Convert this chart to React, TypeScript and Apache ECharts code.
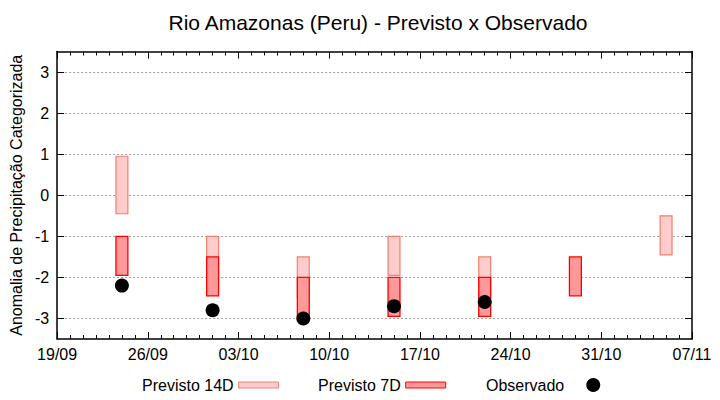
import React, { useEffect, useRef } from "react";
import * as echarts from "echarts";

const BASE_DATE = "2023-09-19";
const TICK_DATES = ["19/09", "26/09", "03/10", "10/10", "17/10", "24/10", "31/10", "07/11"];

const DATES_14D = ["2023-09-24", "2023-10-01", "2023-10-08", "2023-10-15", "2023-10-22", "2023-11-05"];
const LOW_14D = [-0.45, -2.0, -2.5, -1.95, -2.5, -1.45];
const HIGH_14D = [0.95, -1.0, -1.5, -1.0, -1.5, -0.5];

const DATES_7D = ["2023-09-24", "2023-10-01", "2023-10-08", "2023-10-15", "2023-10-22", "2023-10-29"];
const LOW_7D = [-1.95, -2.45, -2.95, -2.95, -2.95, -2.45];
const HIGH_7D = [-1.0, -1.5, -2.0, -2.0, -2.0, -1.5];

const DATES_OBS = ["2023-09-24", "2023-10-01", "2023-10-08", "2023-10-15", "2023-10-22"];
const OBS = [-2.2, -2.8, -3.0, -2.7, -2.6];

const Y_TICKS = [-3, -2, -1, 0, 1, 2, 3];

const DAY = 86400000;
const dayIndex = (d: string) =>
  Math.round((Date.parse(d + "T00:00:00Z") - Date.parse(BASE_DATE + "T00:00:00Z")) / DAY);

const FONT = "Liberation Sans";

const C14_FILL = "#ffcccc";
const C14_LINE = "#f08070";
const C7_FILL = "#ff9999";
const C7_LINE = "#ff0000";

function boxSeries(name: string, dates: string[], low: number[], high: number[], fill: string, stroke: string, lw: number) {
  return {
    name,
    type: "custom",
    renderItem: (params: any, api: any) => {
      const x = api.value(0);
      const p1 = api.coord([x, api.value(2)]);
      const p2 = api.coord([x, api.value(1)]);
      const w = api.size([0.92, 0])[0];
      return {
        type: "rect",
        shape: { x: p1[0] - w / 2, y: p1[1], width: w, height: p2[1] - p1[1] },
        style: { fill, stroke, lineWidth: lw },
      };
    },
    itemStyle: { color: fill, borderColor: stroke, borderWidth: lw },
    encode: { x: 0, y: [1, 2] },
    data: dates.map((d, i) => [dayIndex(d), low[i], high[i]]),
  };
}

export default function App() {
  const ref = useRef<HTMLDivElement>(null);
  useEffect(() => {
    if (!ref.current) return;
    const chart = echarts.init(ref.current, null, { renderer: "svg" });
    const xCommon = {
      type: "value",
      min: 0,
      max: 49,
      interval: 7,
      axisLine: { show: true, onZero: false, lineStyle: { color: "#000", width: 1.5 } },
      axisTick: { show: true, inside: true, length: 7, lineStyle: { color: "#000" } },
      minorTick: { show: true, splitNumber: 7, length: 4, lineStyle: { color: "#000" } },
      splitLine: { show: false },
    };
    const yCommon = {
      type: "value",
      min: -3.5,
      max: 3.5,
      axisLine: { show: true, onZero: false, lineStyle: { color: "#000", width: 1.5 } },
      axisTick: { show: true, inside: true, length: 7, customValues: Y_TICKS, lineStyle: { color: "#000" } },
    };
    const legendText = { fontFamily: FONT, fontSize: 16, color: "#000" };
    const option: any = {
      animation: false,
      backgroundColor: "#fff",
      textStyle: { fontFamily: FONT },
      title: {
        text: "Rio Amazonas (Peru) - Previsto x Observado",
        left: 373,
        top: 7,
        textAlign: "center",
        textStyle: { fontFamily: FONT, fontSize: 21, fontWeight: "normal", color: "#000" },
      },
      grid: { left: 55, right: 28, top: 51.5, bottom: 61, containLabel: false },
      xAxis: [
        {
          ...xCommon,
          position: "bottom",
          axisLabel: {
            show: true,
            margin: 7,
            fontFamily: FONT,
            fontSize: 16,
            color: "#000",
            formatter: (v: number) => TICK_DATES[Math.round(v / 7)] ?? "",
          },
        },
        { ...xCommon, position: "top", axisLabel: { show: false } },
      ],
      yAxis: [
        {
          ...yCommon,
          position: "left",
          name: "Anomalia de Precipitação Categorizada",
          nameLocation: "middle",
          nameGap: 26,
          nameTextStyle: { fontFamily: FONT, fontSize: 16, color: "#000" },
          axisLabel: {
            show: true,
            margin: 8,
            fontFamily: FONT,
            fontSize: 16,
            color: "#000",
            customValues: Y_TICKS,
          },
          splitLine: { show: true, lineStyle: { color: "#a0a0a0", type: [2, 2], width: 1 } },
        },
        {
          ...yCommon,
          position: "right",
          axisLabel: { show: false },
          splitLine: { show: false },
        },
      ],
      legend: [
        {
          data: [
            { name: "Previsto 14D", icon: "rect", itemStyle: { color: C14_FILL, borderColor: C14_LINE, borderWidth: 1 } },
          ],
          left: 142,
          top: 377,
          padding: 0,
          align: "right",
          itemWidth: 40,
          itemHeight: 6,
          textStyle: legendText,
        },
        {
          data: [
            { name: "Previsto 7D", icon: "rect", itemStyle: { color: C7_FILL, borderColor: C7_LINE, borderWidth: 1 } },
          ],
          left: 318,
          top: 377,
          padding: 0,
          align: "right",
          itemWidth: 40,
          itemHeight: 6,
          textStyle: legendText,
        },
        {
          data: [{ name: "Observado", icon: "circle", itemStyle: { color: "#000", opacity: 1 } }],
          left: 486,
          top: 377,
          padding: 0,
          align: "right",
          itemWidth: 48,
          itemHeight: 14,
          textStyle: legendText,
        },
      ],
      series: [
        boxSeries("Previsto 14D", DATES_14D, LOW_14D, HIGH_14D, C14_FILL, C14_LINE, 1.2),
        boxSeries("Previsto 7D", DATES_7D, LOW_7D, HIGH_7D, C7_FILL, C7_LINE, 1.3),
        {
          name: "Observado",
          type: "scatter",
          symbol: "circle",
          symbolSize: 14,
          itemStyle: { color: "#000", opacity: 1 },
          data: DATES_OBS.map((d, i) => [dayIndex(d), OBS[i]]),
        },
      ],
    };
    chart.setOption(option);
    return () => chart.dispose();
  }, []);
  return (
    <div
      ref={ref}
      style={{ position: "fixed", left: 0, top: 0, width: 720, height: 400, background: "#fff" }}
    />
  );
}
